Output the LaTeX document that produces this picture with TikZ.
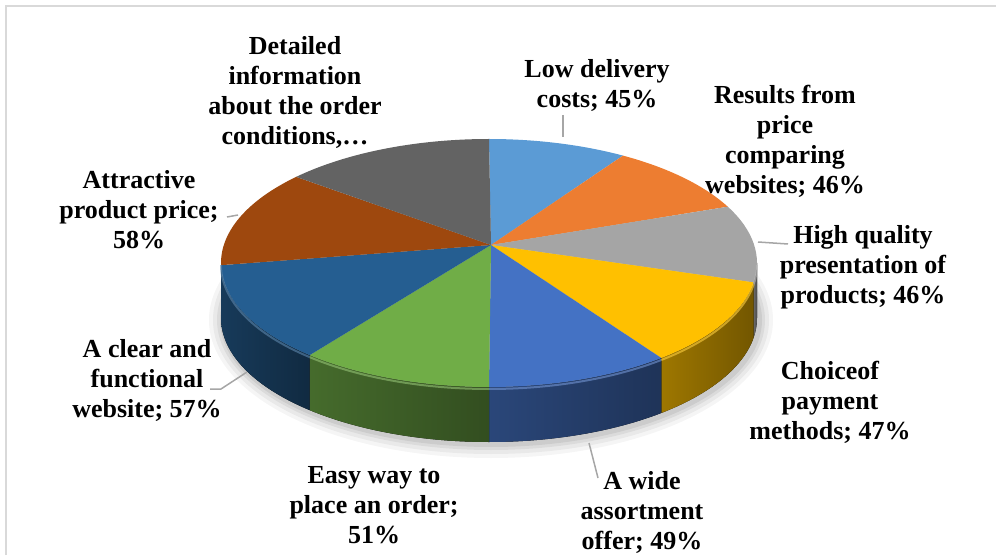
\documentclass[tikz,border=0pt]{standalone}
\usepackage{fontspec}
\setmainfont{Liberation Serif}
\usetikzlibrary{calc,positioning}

\definecolor{cLow}{HTML}{5B9BD5}
\definecolor{cRes}{HTML}{ED7D31}
\definecolor{cHigh}{HTML}{A5A5A5}
\definecolor{cPay}{HTML}{FFC000}
\definecolor{cWide}{HTML}{4472C4}
\definecolor{cEasy}{HTML}{70AD47}
\definecolor{cClear}{HTML}{255E91}
\definecolor{cAttr}{HTML}{9E480E}
\definecolor{cDet}{HTML}{636363}
\definecolor{cFrame}{HTML}{D9D9D9}
\definecolor{cLead}{HTML}{A6A6A6}

\tikzset{
  lbl/.style={font=\bfseries\fontsize{26}{30}\selectfont,align=center,inner sep=0pt},
  leader/.style={draw=cLead,line width=1.5pt},
}

\begin{document}
\begin{tikzpicture}[x=1pt,y=1pt]
\useasboundingbox (0,0) rectangle (996,555);

% frame
\draw[cFrame,line width=2pt] (6,0) -- (6,549) -- (996,549);

\def\rx{268}
\def\ry{124}
\def\th{55}
\coordinate (c) at (489,292);
\coordinate (o) at (491,310);

% soft shadow
\foreach \s/\op in {14/0.04,10/0.05,6/0.06,3/0.07}{
  \fill[black,opacity=\op] ($(c)+(2,-\th-2)$) ellipse[x radius=\rx+\s,y radius=\ry+\s];}

% sides
\foreach \a/\b/\col in {0/-9/cHigh,-9/-50/cPay,-50/-90/cWide,-90/-132/cEasy,-132/-180/cClear}{
  \fill[left color=\col!62!black,right color=\col!45!black]
    ($(c)+({\rx*cos(\a)},{\ry*sin(\a)})$) arc[start angle=\a,end angle=\b,x radius=\rx,y radius=\ry]
    -- ++(0,-\th) arc[start angle=\b,end angle=\a,x radius=\rx,y radius=\ry] -- cycle;}

% top face
\foreach \a/\b/\col in {90/60/cLow,60/27/cRes,27/-9/cHigh,-9/-50/cPay,-50/-90/cWide,
                        -90/-132/cEasy,-132/-179/cClear,-179/-224/cAttr,-224/-270/cDet}{
  \fill[\col] (o) -- ($(c)+({\rx*cos(\a)},{\ry*sin(\a)})$)
    arc[start angle=\a,end angle=\b,x radius=\rx,y radius=\ry] -- cycle;}

% rim highlight
\foreach \a/\b/\col in {0/-9/cHigh,-9/-50/cPay,-50/-90/cWide,-90/-132/cEasy,-132/-180/cClear}{
  \draw[\col!75!white,line width=2pt,opacity=0.6]
    ($(c)+({\rx*cos(\a)},{\ry*sin(\a)-2})$) arc[start angle=\a,end angle=\b,x radius=\rx,y radius=\ry];}

% labels
\node[lbl] (det)   at (295,463) {Detailed\\information\\about the order\\conditions,\dots};
\node[lbl] (attr)  at (139,345) {Attractive\\product price;\\58\%};
\node[lbl] (low)   at (597,470) {Low delivery\\costs; 45\%};
\node[lbl] (res)   at (785,414) {Results from\\price\\comparing\\websites; 46\%};
\node[lbl] (high)  at (863,288) {High quality\\presentation of\\products; 46\%};
\node[lbl] (pay)   at (830,153) {Choiceof\\payment\\methods; 47\%};
\node[lbl] (wide)  at (642,43)  {A wide\\assortment\\offer; 49\%};
\node[lbl] (easy)  at (374,50)  {Easy way to\\place an order;\\51\%};
\node[lbl] (clear) at (147,175) {A clear and\\functional\\website; 57\%};

% leader lines
\coordinate (lowA) at (563,440);   \coordinate (lowB) at (563,418);
\coordinate (attrA) at (227,338);  \coordinate (attrB) at (238,340);
\coordinate (highA) at (788,311);  \coordinate (highB) at (758,313);
\coordinate (wideA) at (598,77);   \coordinate (wideB) at (589,112);
\coordinate (clearA) at (210,166); \coordinate (clearB) at (247,183);

\draw[leader] (lowA) -- (lowB);
\draw[leader] (attrA) -- (attrB);
\draw[leader] (highA) -- (highB);
\draw[leader] (wideA) -- (wideB);
\draw[leader] (clearA) -- ++(11,0) -- (clearB);

\end{tikzpicture}
\end{document}
